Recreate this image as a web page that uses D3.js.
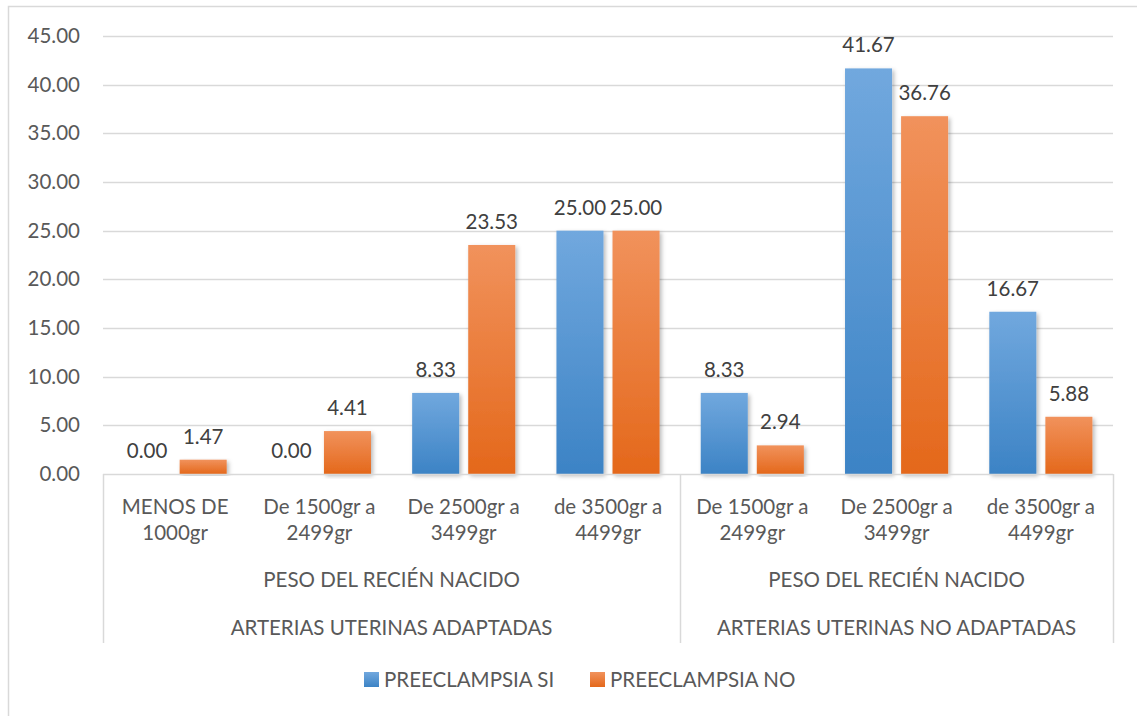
<!DOCTYPE html>
<html>
<head>
<meta charset="utf-8">
<script src="https://cdn.jsdelivr.net/npm/d3@7"></script>
<style>
  html, body { margin: 0; padding: 0; background: #fff; }
  svg { display: block; font-family: Lato, "Open Sans", sans-serif; }
</style>
</head>
<body>
<svg id="chart" width="1137" height="716"></svg>
<script>
// Birth weight categories (level 1), grouped by newborn weight (level 2) and uterine artery status (level 3)
const categories = [
  ["MENOS DE", "1000gr"],
  ["De 1500gr a", "2499gr"],
  ["De 2500gr a", "3499gr"],
  ["de 3500gr a", "4499gr"],
  ["De 1500gr a", "2499gr"],
  ["De 2500gr a", "3499gr"],
  ["de 3500gr a", "4499gr"]
];
const groups = [
  { label: "PESO DEL RECIÉN NACIDO", outer: "ARTERIAS UTERINAS ADAPTADAS", from: 0, to: 4 },
  { label: "PESO DEL RECIÉN NACIDO", outer: "ARTERIAS UTERINAS NO ADAPTADAS", from: 4, to: 7 }
];
const seriesNames = ["PREECLAMPSIA SI", "PREECLAMPSIA NO"];
const preeclampsiaSi = [0.00, 0.00, 8.33, 25.00, 8.33, 41.67, 16.67];
const preeclampsiaNo = [1.47, 4.41, 23.53, 25.00, 2.94, 36.76, 5.88];
const yTicks = [0, 5, 10, 15, 20, 25, 30, 35, 40, 45];

const svg = d3.select("#chart");
const plotLeft = 103, plotRight = 1113, plotTop = 36, plotBottom = 474;
const gridColor = "#d9d9d9";
const textColor = "#595959";

// Outer chart frame
svg.append("rect")
  .attr("x", 8.5).attr("y", 6.5).attr("width", 1140).attr("height", 720)
  .attr("fill", "none").attr("stroke", gridColor).attr("stroke-width", 1.5);

const defs = svg.append("defs");
const gradSpec = [
  { id: "gSi", top: "#71a8de", bottom: "#3c83c5" },
  { id: "gNo", top: "#f1925c", bottom: "#e4681b" }
];
gradSpec.forEach(g => {
  const lg = defs.append("linearGradient").attr("id", g.id)
    .attr("x1", 0).attr("y1", 0).attr("x2", 0).attr("y2", 1);
  lg.append("stop").attr("offset", "0%").attr("stop-color", g.top);
  lg.append("stop").attr("offset", "100%").attr("stop-color", g.bottom);
});
const sh = defs.append("filter").attr("id", "shadow")
  .attr("x", "-20%").attr("y", "-5%").attr("width", "150%").attr("height", "115%");
sh.append("feDropShadow").attr("dx", 2).attr("dy", 2).attr("stdDeviation", 2.2)
  .attr("flood-color", "#000").attr("flood-opacity", 0.28);

const y = d3.scaleLinear().domain([0, 45]).range([plotBottom, plotTop]);
const x0 = d3.scaleBand().domain(d3.range(categories.length)).range([plotLeft, plotRight]).padding(0);
const x1 = d3.scaleBand().domain([0, 1])
  .range([x0.bandwidth() * 0.1427, x0.bandwidth() * 0.8573]).paddingInner(0.161);

// Gridlines
svg.append("g").selectAll("line").data(yTicks.filter(t => t > 0)).join("line")
  .attr("x1", plotLeft).attr("x2", plotRight)
  .attr("y1", d => Math.round(y(d)) + 0.5).attr("y2", d => Math.round(y(d)) + 0.5)
  .attr("stroke", gridColor).attr("stroke-width", 1.5);

// Y axis labels
const yAxis = d3.axisLeft(y).tickValues(yTicks).tickFormat(d3.format(".2f")).tickSize(0).tickPadding(0);
const yg = svg.append("g").attr("transform", `translate(80,0)`).call(yAxis);
yg.select(".domain").remove();
yg.selectAll("text").attr("fill", textColor).style("font-size", "20.5px")
  .style("font-family", "Lato, 'Open Sans', sans-serif");

// Bars
const series = [preeclampsiaSi, preeclampsiaNo];
const fills = ["url(#gSi)", "url(#gNo)"];
const barData = [];
series.forEach((vals, s) => vals.forEach((v, i) => barData.push({ s, i, v })));

svg.append("g").selectAll("rect").data(barData.filter(d => d.v > 0)).join("rect")
  .attr("x", d => x0(d.i) + x1(d.s))
  .attr("y", d => y(d.v))
  .attr("width", x1.bandwidth())
  .attr("height", d => y(0) - y(d.v))
  .attr("fill", d => fills[d.s])
  .attr("filter", "url(#shadow)");

// Value labels
svg.append("g").selectAll("text").data(barData).join("text")
  .attr("x", d => x0(d.i) + x1(d.s) + x1.bandwidth() / 2)
  .attr("y", d => y(d.v) - 16)
  .attr("text-anchor", "middle")
  .attr("fill", "#404040")
  .style("font-size", "20.5px")
  .text(d => d3.format(".2f")(d.v));

// Category axis line
svg.append("line").attr("x1", plotLeft).attr("x2", plotRight)
  .attr("y1", plotBottom + 0.5).attr("y2", plotBottom + 0.5)
  .attr("stroke", gridColor).attr("stroke-width", 1.5);

// Group separators
const sepX = [plotLeft, x0(groups[1].from), plotRight];
svg.append("g").selectAll("line").data(sepX).join("line")
  .attr("x1", d => Math.round(d) + 0.5).attr("x2", d => Math.round(d) + 0.5)
  .attr("y1", plotBottom).attr("y2", 643)
  .attr("stroke", gridColor).attr("stroke-width", 1.5);

// Level 1 labels
const catG = svg.append("g");
categories.forEach((lines, i) => {
  const t = catG.append("text")
    .attr("x", x0(i) + x0.bandwidth() / 2)
    .attr("text-anchor", "middle").attr("fill", textColor).style("font-size", "20.5px");
  lines.forEach((ln, k) => t.append("tspan")
    .attr("x", x0(i) + x0.bandwidth() / 2).attr("y", 514 + k * 26).text(ln));
});

// Level 2 and 3 labels
groups.forEach(g => {
  const cx = (x0(g.from) + (g.to < categories.length ? x0(g.to) : plotRight)) / 2;
  svg.append("text").attr("x", cx).attr("y", 587).attr("text-anchor", "middle")
    .attr("fill", textColor).style("font-size", "20.5px").text(g.label);
  svg.append("text").attr("x", cx).attr("y", 635).attr("text-anchor", "middle")
    .attr("fill", textColor).style("font-size", "20.5px").text(g.outer);
});

// Legend
const legendX = [364, 590];
const leg = svg.append("g");
seriesNames.forEach((name, s) => {
  leg.append("rect").attr("x", legendX[s]).attr("y", 672).attr("width", 15).attr("height", 15)
    .attr("fill", fills[s]);
  leg.append("text").attr("x", legendX[s] + 20).attr("y", 687)
    .attr("fill", textColor).style("font-size", "20.5px").text(name);
});
</script>
</body>
</html>
